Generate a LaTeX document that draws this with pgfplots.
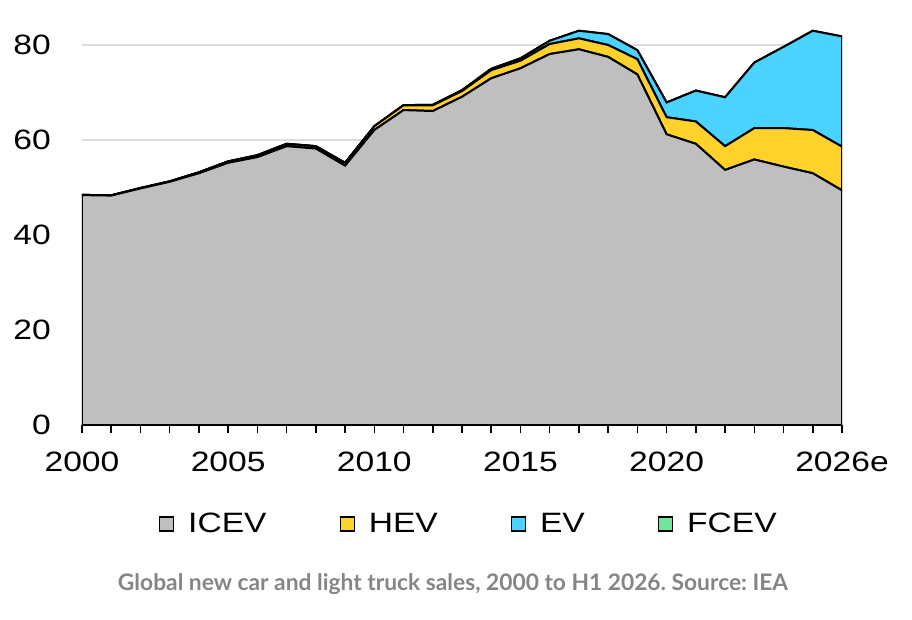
\documentclass[border=0pt]{standalone}
\usepackage{pgfplots}
\pgfplotsset{compat=1.18}
\usepackage{graphicx}
\usepackage{fontspec}
\setmainfont{Liberation Sans}
\newfontfamily\capfont{Lato}
\definecolor{icev}{HTML}{BFBFBF}
\definecolor{hev}{HTML}{FFD22B}
\definecolor{ev}{HTML}{4BD2FF}
\definecolor{fcev}{HTML}{6FE69A}
\definecolor{capgray}{HTML}{858585}
\definecolor{gridgray}{HTML}{DDDDDD}
\newcommand{\sx}[1]{\scalebox{1.2}[1]{#1}}
\frenchspacing
\begin{document}
\begin{tikzpicture}
\useasboundingbox (0,0) rectangle (912pt,619pt);
\begin{axis}[
  at={(82pt,194pt)}, anchor=south west,
  scale only axis, width=760pt, height=403.75pt,
  xmin=2000, xmax=2026, ymin=0, ymax=85,
  stack plots=y,
  axis x line*=bottom, axis y line*=left,
  y axis line style={draw=none},
  x axis line style={line width=1.8pt, black},
  ytick={0,20,40,60,80},
  ytick style={draw=none},
  yticklabel style={anchor=east, inner sep=0pt, xshift=-23pt},
  yticklabel={\sx{\pgfmathprintnumber{\tick}}},
  xtick={2000,2005,2010,2015,2020,2026},
  xticklabels={\sx{2000},\sx{2005},\sx{2010},\sx{2015},\sx{2020},\sx{2026e}},
  minor xtick={2001,2002,2003,2004,2006,2007,2008,2009,2011,2012,2013,2014,2016,2017,2018,2019,2021,2022,2023,2024,2025},
  tick align=outside,
  major tick length=8pt, minor tick length=8pt,
  xtick style={line width=1.6pt, black},
  minor tick style={line width=1.6pt, black},
  xticklabel style={anchor=north, inner sep=0pt, yshift=-19pt},
  tick label style={font=\fontsize{28}{30}\selectfont},
  /pgf/number format/assume math mode=true,
  ymajorgrids, grid style={line width=1.5pt, gridgray},
  legend columns=4,
  legend style={at={(0.101,-0.245)}, anchor=west, draw=none, fill=none,
    font=\fontsize{28}{30}\selectfont, inner sep=0pt,
    nodes={inner sep=0pt},
    /tikz/every odd column/.append style={column sep=14pt},
    /tikz/every even column/.append style={column sep=73pt}},
  legend image code/.code={\draw[#1, draw=black, line width=1.2pt] (0pt,-7pt) rectangle (14pt,7pt);},
]
\addplot[fill=icev, draw=black, line width=2pt] coordinates {
(2000,48.4) (2001,48.3) (2002,49.8) (2003,51.2) (2004,53.0) (2005,55.2) (2006,56.4)
(2007,58.7) (2008,58.2) (2009,54.6) (2010,62.1) (2011,66.3) (2012,66.1) (2013,69.1)
(2014,73.0) (2015,75.1) (2016,78.1) (2017,79.1) (2018,77.5) (2019,73.8) (2020,61.2)
(2021,59.2) (2022,53.7) (2023,55.9) (2024,54.4) (2025,53.0) (2026,49.4)} \closedcycle;
\addlegendentry{\sx{ICEV}}
\addplot[fill=hev, draw=black, line width=2pt] coordinates {
(2000,0.05) (2001,0.05) (2002,0.1) (2003,0.1) (2004,0.2) (2005,0.3) (2006,0.4)
(2007,0.5) (2008,0.5) (2009,0.6) (2010,0.8) (2011,1.0) (2012,1.2) (2013,1.2)
(2014,1.7) (2015,1.6) (2016,2.1) (2017,2.3) (2018,2.5) (2019,3.2) (2020,3.6)
(2021,4.7) (2022,5.0) (2023,6.6) (2024,8.1) (2025,9.1) (2026,9.2)} \closedcycle;
\addlegendentry{\sx{HEV}}
\addplot[fill=ev, draw=black, line width=2pt] coordinates {
(2000,0) (2001,0) (2002,0) (2003,0) (2004,0) (2005,0) (2006,0)
(2007,0) (2008,0) (2009,0) (2010,0.01) (2011,0.05) (2012,0.1) (2013,0.2)
(2014,0.3) (2015,0.5) (2016,0.7) (2017,1.6) (2018,2.3) (2019,1.9) (2020,3.1)
(2021,6.5) (2022,10.3) (2023,13.8) (2024,17.1) (2025,20.9) (2026,23.2)} \closedcycle;
\addlegendentry{\sx{EV}}
\addplot[fill=fcev, draw=black, line width=2pt] coordinates {
(2000,0) (2001,0) (2002,0) (2003,0) (2004,0) (2005,0) (2006,0)
(2007,0) (2008,0) (2009,0) (2010,0) (2011,0) (2012,0) (2013,0)
(2014,0) (2015,0.001) (2016,0.002) (2017,0.003) (2018,0.005) (2019,0.01) (2020,0.01)
(2021,0.015) (2022,0.015) (2023,0.015) (2024,0.01) (2025,0.01) (2026,0.01)} \closedcycle;
\addlegendentry{\sx{FCEV}}
\end{axis}
\node[text=capgray, inner sep=0pt, anchor=base] at (453pt,29pt) {\resizebox{670pt}{!}{\capfont\bfseries Global new car and light truck sales, 2000 to H1 2026. Source: IEA}};
\end{tikzpicture}
\end{document}
